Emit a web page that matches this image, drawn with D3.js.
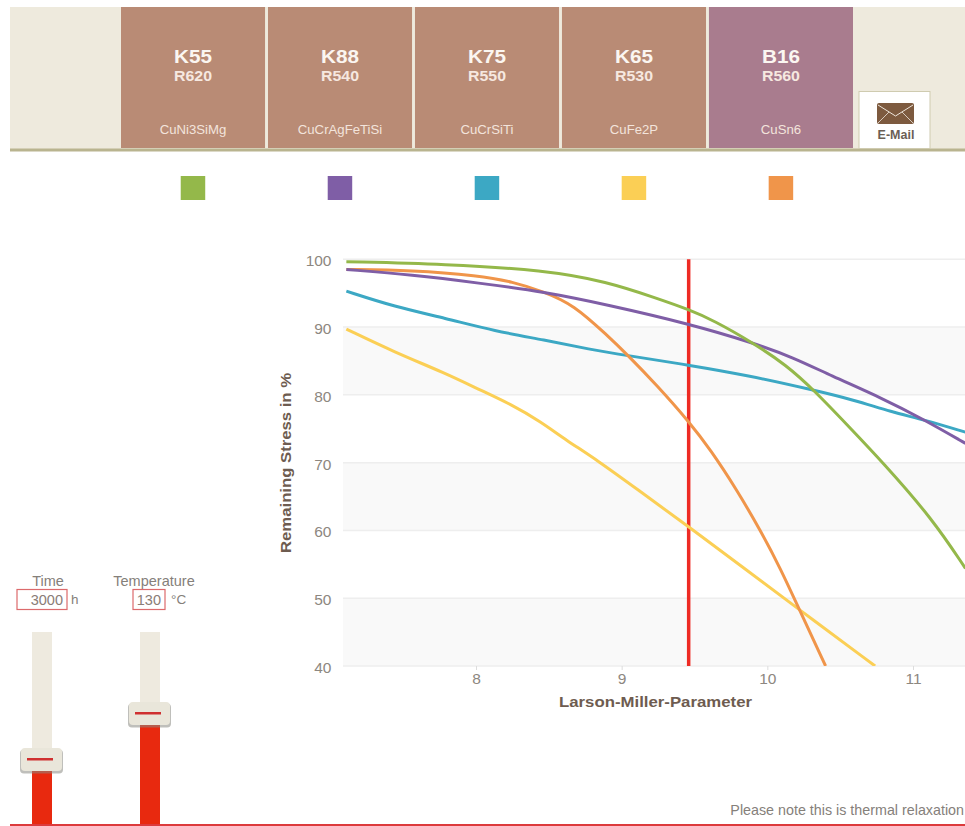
<!DOCTYPE html>
<html><head><meta charset="utf-8">
<script src="https://cdn.jsdelivr.net/npm/d3@7/dist/d3.min.js"></script>
<style>
html,body{margin:0;padding:0;background:#fff;overflow:hidden}
svg{display:block;font-family:"Liberation Sans",Arial,sans-serif}
</style></head><body>
<svg id="c" width="965" height="826"></svg>
<script>
// ---- data ----
const alloys = ["K55","K88","K75","K65","B16"];
const grades = ["R620","R540","R550","R530","R560"];
const compositions = ["CuNi3SiMg","CuCrAgFeTiSi","CuCrSiTi","CuFe2P","CuSn6"];
const tileColors = ["#b98b75","#b98b75","#b98b75","#b98b75","#a97c8e"];
const seriesColors = ["#94b84a","#7f5ea6","#3ca8c4","#fbcf55","#f0954a"];

const k55X = [7.11,7.79,8.47,8.90,9.24,9.46,9.63,9.90,10.13,10.32,10.56,10.79,11.13,11.36];
const k55Y = [99.65,99.3,98.4,96.7,94.25,92.6,91.0,87.7,84.4,80.7,75.3,70.1,61.8,54.4];
const k88X = [7.11,7.56,8.02,8.47,8.90,9.46,9.90,10.18,10.43,10.79,11.08,11.36];
const k88Y = [98.5,97.7,96.5,95.2,93.3,90.5,87.7,85.5,82.9,79.5,76.3,72.85];
const k75X = [7.11,7.44,7.79,8.13,8.47,8.78,9.04,9.46,9.86,10.32,10.60,10.85,11.08,11.36];
const k75Y = [95.3,93.0,91.3,89.4,88.1,86.7,85.8,84.4,82.9,80.7,79.2,77.5,76.3,74.5];
const k65X = [7.11,7.44,7.79,8.02,8.25,8.44,8.62,8.83,9.13,9.46,9.81,10.22,10.74];
const k65Y = [89.7,86.3,83.2,80.8,78.5,76.1,73.3,70.4,65.7,60.55,54.9,48.3,40.0];
const b16X = [7.11,7.56,8.02,8.25,8.47,8.67,8.90,9.04,9.24,9.46,9.61,9.79,9.95,10.09,10.22,10.40];
const b16Y = [98.5,98.4,97.6,96.7,95.2,93.3,88.8,85.9,81.45,76.1,71.9,66.0,60.1,54.4,48.3,40.0];
const seriesX = [k55X,k88X,k75X,k65X,b16X];
const seriesY = [k55Y,k88Y,k75Y,k65Y,b16Y];
const drawOrder = [3,2,4,1,0];

const xTicks = [8,9,10,11];
const yTicks = [40,50,60,70,80,90,100];
const bands = [[80,90],[60,70],[40,50]];
const currentLmp = 9.46;
const sliders = [
  {label:"Time", value:"3000", unit:"h"},
  {label:"Temperature", value:"130", unit:"°C"}
];
const note = "Please note this is thermal relaxation";

// ---- scales ----
const svg = d3.select("#c");
const x = d3.scaleLinear().domain([8,11]).range([476,913]);
const y = d3.scaleLinear().domain([40,100]).range([666,259.3]);
const plotL = 343, plotR = 965;

// ---- header ----
svg.append("rect").attr("x",10).attr("y",7).attr("width",955).attr("height",143).attr("fill","#eeeadd");
const tile = d3.scaleBand().domain(alloys).range([121,853]).paddingInner(0.02);
const tiles = svg.selectAll("g.tile").data(alloys).join("g").attr("class","tile")
  .attr("transform",d=>`translate(${tile(d)},7)`);
tiles.append("rect").attr("width",tile.bandwidth()).attr("height",141).attr("fill",(d,i)=>tileColors[i]);
const tc = tile.bandwidth()/2;
tiles.append("text").attr("x",tc).attr("y",56).attr("text-anchor","middle").attr("font-size",19).attr("font-weight",700).attr("fill","#fbf6f1")
  .attr("textLength",38).attr("lengthAdjust","spacingAndGlyphs").text(d=>d);
tiles.append("text").attr("x",tc).attr("y",74).attr("text-anchor","middle").attr("font-size",14.5).attr("font-weight",700).attr("fill","#f6e8e0")
  .attr("textLength",38).attr("lengthAdjust","spacingAndGlyphs").text((d,i)=>grades[i]);
tiles.append("text").attr("x",tc).attr("y",127).attr("text-anchor","middle").attr("font-size",13.2).attr("fill","#f3e4dc").text((d,i)=>compositions[i]);
svg.append("rect").attr("x",10).attr("y",148.5).attr("width",955).attr("height",3).attr("fill","#b9b48f");

// e-mail button
svg.append("rect").attr("x",859).attr("y",91.5).attr("width",71).attr("height",57).attr("fill","#fff").attr("stroke","#cfcbb0");
svg.append("rect").attr("x",877).attr("y",103).attr("width",37).attr("height",21).attr("rx",2).attr("fill","#7d5a3f");
svg.append("path").attr("d",d3.line()([[878,105],[895.5,116],[913,105]])).attr("fill","none").attr("stroke","#efe6dc").attr("stroke-width",1);
svg.append("path").attr("d",d3.line()([[878,123],[889,112]])).attr("fill","none").attr("stroke","#efe6dc").attr("stroke-width",.8);
svg.append("path").attr("d",d3.line()([[913,123],[902,112]])).attr("fill","none").attr("stroke","#efe6dc").attr("stroke-width",.8);
svg.append("text").attr("x",896).attr("y",139).attr("text-anchor","middle").attr("font-size",12.5).attr("font-weight",700).attr("fill","#6b5f55").text("E-Mail");

// swatches
svg.selectAll("rect.sw").data(alloys).join("rect").attr("class","sw")
  .attr("x",d=>tile(d)+tc-12.3).attr("y",176).attr("width",24.5).attr("height",24)
  .attr("fill",(d,i)=>seriesColors[i]);

// ---- plot ----
svg.selectAll("rect.band").data(bands).join("rect").attr("class","band")
  .attr("x",plotL).attr("width",plotR-plotL)
  .attr("y",d=>y(d[1])).attr("height",d=>y(d[0])-y(d[1])).attr("fill","#f9f9f9");
svg.selectAll("line.grid").data(yTicks).join("line").attr("class","grid")
  .attr("x1",plotL).attr("x2",plotR).attr("y1",d=>y(d)).attr("y2",d=>y(d))
  .attr("stroke","#eeeeee").attr("stroke-width",1.5);

const yAxis = d3.axisLeft(y).tickValues(yTicks).tickSize(0).tickPadding(0);
const gy = svg.append("g").attr("transform","translate(331.5,0)").call(yAxis);
gy.select(".domain").remove();
gy.selectAll("text").attr("font-size",15.5).attr("font-family","inherit").attr("fill","#8d8780").attr("dy","0.42em");

const xAxis = d3.axisBottom(x).tickValues(xTicks).tickFormat(d3.format("d")).tickSize(4).tickPadding(3);
const gx = svg.append("g").attr("transform","translate(0,666)").call(xAxis);
gx.select(".domain").remove();
gx.selectAll("line").attr("stroke","#dddddd");
gx.selectAll("text").attr("font-size",15.5).attr("font-family","inherit").attr("fill","#8d8780");

svg.append("text").attr("x",655.5).attr("y",707).attr("text-anchor","middle").attr("font-size",15).attr("font-weight",700).attr("fill","#6e5c50")
  .attr("textLength",193).attr("lengthAdjust","spacingAndGlyphs").text("Larson-Miller-Parameter");
svg.append("text").attr("transform","translate(291,463) rotate(-90)").attr("text-anchor","middle").attr("font-size",15).attr("font-weight",700).attr("fill","#6e5c50")
  .attr("textLength",180).attr("lengthAdjust","spacingAndGlyphs").text("Remaining Stress in %");

svg.append("line").attr("x1",x(currentLmp)).attr("x2",x(currentLmp)).attr("y1",y(100)).attr("y2",y(40))
  .attr("stroke","#ee2b24").attr("stroke-width",3.5);

svg.append("clipPath").attr("id","pc").append("rect").attr("x",plotL).attr("y",250).attr("width",plotR-plotL).attr("height",y(40)-250);
const line = d3.line().x(d=>x(d[0])).y(d=>y(d[1])).curve(d3.curveBasis);
const lines = svg.append("g").attr("clip-path","url(#pc)");
lines.selectAll("path").data(drawOrder).join("path")
  .attr("d",i=>line(d3.zip(seriesX[i],seriesY[i])))
  .attr("fill","none").attr("stroke",i=>seriesColors[i]).attr("stroke-width",3);

// ---- sliders ----
const sliderGeom = [
  {tx:32, cx:42, top:632, thumb:748, labelX:48, box:[17,589.5,50,20], unitX:71, valX:63},
  {tx:140, cx:150, top:632, thumb:702, labelX:154, box:[133,589.5,32,20], unitX:171, valX:161}
];
sliders.forEach((s,i)=>{
  const g = sliderGeom[i];
  svg.append("text").attr("x",g.labelX).attr("y",586).attr("text-anchor","middle").attr("font-size",14.5).attr("fill","#85807a").text(s.label);
  svg.append("rect").attr("x",g.box[0]).attr("y",g.box[1]).attr("width",g.box[2]).attr("height",g.box[3]).attr("fill","#fff").attr("stroke","#dc6a6c").attr("stroke-width",1.2);
  svg.append("text").attr("x",g.valX).attr("y",605).attr("text-anchor","end").attr("font-size",14.5).attr("fill","#8a7c76").text(s.value);
  svg.append("text").attr("x",g.unitX).attr("y",604).attr("font-size",13.5).attr("fill","#85807a").text(s.unit);
  svg.append("rect").attr("x",g.tx).attr("y",g.top).attr("width",20).attr("height",826-g.top).attr("fill","#eeeadf");
  svg.append("rect").attr("x",g.tx).attr("y",g.thumb+10).attr("width",20).attr("height",826-g.thumb-10).attr("fill","#e8290f");
  svg.append("rect").attr("x",g.cx-22).attr("y",g.thumb+1.5).attr("width",43).attr("height",24).attr("rx",4).attr("fill","#8b8b84").attr("opacity",.55);
  svg.append("rect").attr("x",g.cx-21).attr("y",g.thumb).attr("width",41).attr("height",23).attr("rx",4).attr("fill","#e9e6da");
  svg.append("rect").attr("x",g.cx-15).attr("y",g.thumb+10).attr("width",26).attr("height",2.5).attr("fill","#cf3030");
});

// ---- footer ----
svg.append("rect").attr("x",10).attr("y",824).attr("width",955).attr("height",2).attr("fill","#dc3a3c");
svg.append("text").attr("x",964).attr("y",815).attr("text-anchor","end").attr("font-size",14.3).attr("fill","#85807a").text(note);
</script>
</body></html>
